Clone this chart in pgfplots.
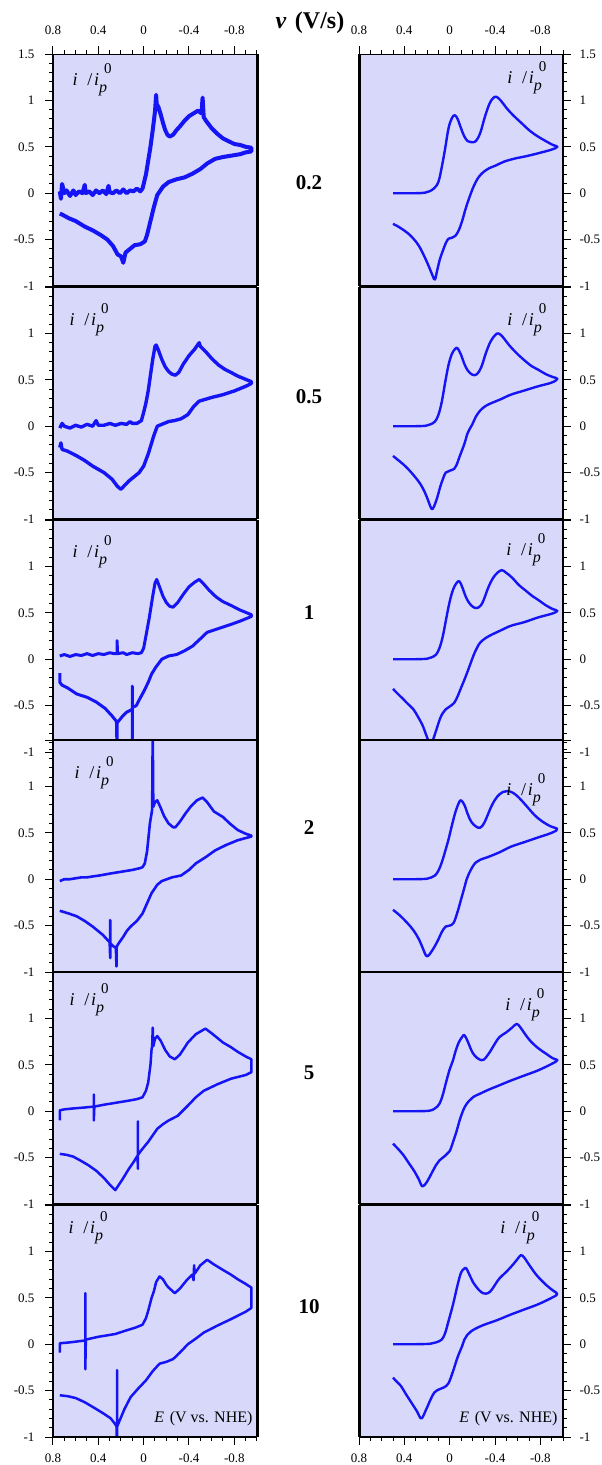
\documentclass[border=0pt]{standalone}
\usepackage{pgfplots}
\pgfplotsset{compat=1.18}
\usepackage{fontspec}
\setmainfont{Liberation Serif}
\definecolor{bgc}{RGB}{216,216,250}
\definecolor{cvb}{RGB}{20,20,245}
\newcommand{\ilab}{\fontsize{18}{18}\selectfont\textit{i}\hspace{0.55em}/\hspace{0.1em}\textit{i}\raisebox{-0.4em}{\fontsize{16}{16}\selectfont\textit{p}}\hspace{-3pt}\raisebox{0.62em}{\fontsize{15}{15}\selectfont 0}}
\newcommand{\elab}{\fontsize{16}{16}\selectfont\textit{E}\hspace{0.35em}(V vs. NHE)}
\pgfplotsset{
  cvbase/.style={scale only axis, width=204pt, height=232pt, x dir=reverse,
    xmin=-1, xmax=0.8, ymin=-1, ymax=1.5, anchor=north west,
    axis background/.style={fill=bgc}, clip mode=individual,
    tick align=outside, major tick length=8pt, minor tick length=4pt,
    every tick/.style={black, line width=1pt},
    axis line style={line width=1pt},
    ytick={-1,-0.5,0,0.5,1,1.5},
    minor ytick={-0.9,-0.8,-0.7,-0.6,-0.4,-0.3,-0.2,-0.1,0.1,0.2,0.3,0.4,0.6,0.7,0.8,0.9,1.1,1.2,1.3,1.4},
    yticklabels={-1,-0.5,0,0.5,1,{}},
    tick label style={font=\fontsize{13}{14}\selectfont},
  },
  L/.style={cvbase, at={(53pt,#1)}, ytick pos=left, yticklabel pos=left, yticklabel style={xshift=-7pt}},
  R/.style={cvbase, at={(359pt,#1)}, ytick pos=right, yticklabel pos=right, yticklabel style={xshift=5pt}},
  xt/.style={xtick={-0.8,-0.4,0,0.4,0.8}, xticklabels={-0.8,-0.4,0,0.4,0.8},
    minor xtick={-1,-0.9,-0.7,-0.6,-0.5,-0.3,-0.2,-0.1,0.1,0.2,0.3,0.5,0.6,0.7}},
  topx/.style={xt, xtick pos=right, xticklabel pos=right, xticklabel style={yshift=8pt}, yticklabels={-1,-0.5,0,0.5,1,1.5}},
  midx/.style={xtick=\empty},
  botx/.style={xt, xtick pos=left, xticklabel pos=left, xticklabel style={yshift=-5pt}},
  exp/.style={cvb, line width=2.6pt, line join=round},
  sim/.style={cvb, line width=2.4pt, smooth, tension=0.6, line join=round},
}
\newcommand{\frameL}[1]{\draw[line width=3pt] (#1.north east) -- (#1.south east);
  \draw[line width=2pt] (#1.north west) -- (#1.south west);}
\newcommand{\frameR}[1]{\draw[line width=3pt] (#1.north west) -- (#1.south west);
  \draw[line width=2.4pt] (#1.north east) -- (#1.south east);}
\newcommand{\hbot}[1]{\draw[line width=2pt] (#1.south west) -- (#1.south east);}
\newcommand{\htop}[1]{\draw[line width=2pt] (#1.north west) -- (#1.north east);}
\begin{document}
\begin{tikzpicture}
\useasboundingbox (0pt,0pt) rectangle (602pt,-1465pt);
\node[font=\fontsize{24}{26}\selectfont\bfseries] at (310pt,-23pt) {\textit{v}\hspace{0.35em}(V/s)};
% ---------------- Row 1 (0.2 V/s)
\begin{axis}[L=-54pt, topx, name=L1]
\addplot[exp, line width=4pt] coordinates {(0.74,0.02)(0.73,-0.06)(0.72,0.10)(0.70,0.0)(0.68,0.03)(0.65,-0.03)(0.62,0.03)(0.60,-0.02)(0.57,0.02)(0.54,0.0)(0.52,0.09)(0.51,0.0)(0.48,0.02)(0.45,-0.02)(0.42,0.03)(0.39,0.0)(0.36,0.03)(0.33,-0.01)(0.31,0.08)(0.30,0.01)(0.27,0.0)(0.24,0.03)(0.21,0.0)(0.18,0.04)(0.15,0.0)(0.12,0.03)(0.09,0.02)(0.06,0.05)(0.03,0.02)(0.01,0.05)(0.0,0.10)(-0.02,0.2)(-0.04,0.35)(-0.06,0.5)(-0.08,0.68)(-0.10,0.88)(-0.11,1.06)(-0.115,0.96)(-0.13,0.93)(-0.15,0.85)(-0.17,0.76)(-0.19,0.68)(-0.21,0.63)(-0.23,0.61)(-0.26,0.63)(-0.29,0.68)(-0.32,0.72)(-0.36,0.78)(-0.40,0.83)(-0.44,0.86)(-0.48,0.89)(-0.51,0.86)(-0.52,1.03)(-0.53,0.82)(-0.55,0.78)(-0.60,0.70)(-0.65,0.64)(-0.70,0.59)(-0.75,0.56)(-0.80,0.53)(-0.85,0.52)(-0.90,0.50)(-0.95,0.49)(-0.95,0.45)(-0.90,0.44)(-0.85,0.42)(-0.80,0.41)(-0.75,0.40)(-0.70,0.39)(-0.63,0.37)(-0.56,0.32)(-0.50,0.26)(-0.43,0.21)(-0.36,0.17)(-0.29,0.15)(-0.22,0.12)(-0.17,0.07)(-0.12,-0.02)(-0.09,-0.15)(-0.06,-0.30)(-0.03,-0.45)(-0.01,-0.52)(0.03,-0.55)(0.08,-0.56)(0.12,-0.60)(0.16,-0.64)(0.18,-0.75)(0.20,-0.68)(0.23,-0.66)(0.27,-0.57)(0.32,-0.50)(0.38,-0.45)(0.45,-0.40)(0.52,-0.36)(0.60,-0.30)(0.66,-0.27)(0.72,-0.23)(0.74,-0.22)};
\node[anchor=base west, xshift=16pt, yshift=-31pt] at (axis description cs:0,1) {\ilab};
\end{axis}
\frameL{L1}\hbot{L1}
\begin{axis}[R=-54pt, topx, name=R1]
\addplot[sim] coordinates {(0.50,0)(0.40,0)(0.30,0)(0.22,0.005)(0.18,0.02)(0.14,0.05)(0.10,0.12)(0.07,0.28)(0.04,0.48)(0.01,0.70)(-0.02,0.81)(-0.045,0.84)(-0.07,0.80)(-0.10,0.70)(-0.13,0.61)(-0.16,0.56)(-0.19,0.55)(-0.23,0.56)(-0.27,0.65)(-0.31,0.82)(-0.35,0.96)(-0.38,1.02)(-0.41,1.04)(-0.45,1.0)(-0.50,0.92)(-0.56,0.84)(-0.63,0.76)(-0.71,0.67)(-0.78,0.61)(-0.85,0.56)(-0.91,0.52)(-0.95,0.50)(-0.90,0.47)(-0.78,0.43)(-0.68,0.40)(-0.58,0.375)(-0.48,0.34)(-0.41,0.30)(-0.35,0.27)(-0.30,0.23)(-0.26,0.18)(-0.23,0.12)(-0.20,0.04)(-0.17,-0.06)(-0.14,-0.17)(-0.11,-0.30)(-0.08,-0.40)(-0.05,-0.46)(-0.02,-0.48)(0.01,-0.49)(0.035,-0.54)(0.06,-0.62)(0.086,-0.71)(0.11,-0.83)(0.13,-0.93)(0.15,-0.89)(0.18,-0.80)(0.22,-0.69)(0.27,-0.57)(0.32,-0.49)(0.37,-0.43)(0.44,-0.37)(0.50,-0.33)};
\node[anchor=base east, xshift=-13pt, yshift=-29pt] at (axis description cs:1,1) {\ilab};
\end{axis}
\frameR{R1}\hbot{R1}
% ---------------- Row 2 (0.5 V/s)
\begin{axis}[L=-287pt, midx, name=L2]
\addplot[exp, line width=3.4pt] coordinates {(0.74,-0.02)(0.72,0.03)(0.70,0.0)(0.65,-0.02)(0.60,0.01)(0.55,-0.01)(0.50,0.02)(0.45,0.0)(0.42,0.06)(0.40,0.01)(0.35,0.01)(0.30,0.03)(0.25,0.01)(0.20,0.03)(0.15,0.02)(0.12,0.05)(0.10,0.03)(0.06,0.03)(0.02,0.06)(0.0,0.15)(-0.02,0.25)(-0.04,0.38)(-0.06,0.55)(-0.08,0.72)(-0.10,0.86)(-0.11,0.875)(-0.13,0.82)(-0.16,0.72)(-0.19,0.64)(-0.22,0.59)(-0.25,0.56)(-0.28,0.55)(-0.31,0.58)(-0.35,0.67)(-0.40,0.76)(-0.45,0.83)(-0.49,0.90)(-0.50,0.86)(-0.55,0.80)(-0.60,0.73)(-0.66,0.66)(-0.72,0.61)(-0.77,0.58)(-0.83,0.54)(-0.89,0.51)(-0.95,0.48)(-0.95,0.46)(-0.90,0.43)(-0.80,0.38)(-0.70,0.34)(-0.60,0.31)(-0.49,0.27)(-0.44,0.21)(-0.39,0.125)(-0.33,0.08)(-0.27,0.06)(-0.22,0.05)(-0.16,0.02)(-0.12,0.0)(-0.09,-0.10)(-0.07,-0.18)(-0.04,-0.30)(0.0,-0.43)(0.04,-0.50)(0.08,-0.54)(0.13,-0.59)(0.17,-0.64)(0.20,-0.68)(0.23,-0.65)(0.28,-0.57)(0.35,-0.50)(0.45,-0.43)(0.52,-0.37)(0.59,-0.32)(0.67,-0.27)(0.72,-0.25)(0.73,-0.18)(0.74,-0.23)};
\node[anchor=base west, xshift=13pt, yshift=-38pt] at (axis description cs:0,1) {\ilab};
\end{axis}
\frameL{L2}\hbot{L2}\htop{L2}
\begin{axis}[R=-287pt, midx, name=R2]
\addplot[sim] coordinates {(0.50,0)(0.40,0)(0.30,0)(0.21,0.005)(0.17,0.02)(0.13,0.05)(0.10,0.12)(0.07,0.26)(0.04,0.47)(0.01,0.66)(-0.02,0.78)(-0.05,0.835)(-0.07,0.84)(-0.10,0.77)(-0.13,0.67)(-0.16,0.60)(-0.20,0.555)(-0.24,0.56)(-0.28,0.64)(-0.32,0.79)(-0.36,0.91)(-0.40,0.98)(-0.43,1.0)(-0.47,0.96)(-0.52,0.88)(-0.58,0.80)(-0.65,0.72)(-0.72,0.65)(-0.78,0.61)(-0.85,0.56)(-0.91,0.53)(-0.95,0.51)(-0.90,0.47)(-0.78,0.43)(-0.66,0.385)(-0.54,0.34)(-0.45,0.29)(-0.38,0.255)(-0.32,0.22)(-0.27,0.17)(-0.23,0.10)(-0.20,0.02)(-0.16,-0.07)(-0.13,-0.19)(-0.09,-0.32)(-0.06,-0.42)(-0.04,-0.46)(0.0,-0.48)(0.035,-0.50)(0.06,-0.57)(0.085,-0.66)(0.11,-0.77)(0.14,-0.87)(0.16,-0.89)(0.19,-0.80)(0.22,-0.71)(0.26,-0.62)(0.31,-0.54)(0.36,-0.47)(0.41,-0.41)(0.46,-0.36)(0.50,-0.32)};
\node[anchor=base east, xshift=-13pt, yshift=-38pt] at (axis description cs:1,1) {\ilab};
\end{axis}
\frameR{R2}\hbot{R2}\htop{R2}
% ---------------- Row 3 (1 V/s)
\begin{axis}[L=-520pt, midx, name=L3]
\addplot[exp, line width=3pt] coordinates {(0.74,0.035)(0.70,0.05)(0.65,0.03)(0.60,0.05)(0.55,0.04)(0.50,0.06)(0.45,0.04)(0.40,0.06)(0.35,0.05)(0.30,0.07)(0.26,0.06)(0.235,0.06)(0.235,0.2)(0.23,0.06)(0.18,0.07)(0.15,0.05)(0.10,0.07)(0.05,0.06)(0.02,0.07)(0.0,0.12)(-0.02,0.25)(-0.05,0.45)(-0.08,0.68)(-0.10,0.82)(-0.115,0.86)(-0.14,0.78)(-0.17,0.68)(-0.20,0.61)(-0.23,0.57)(-0.26,0.56)(-0.30,0.61)(-0.35,0.70)(-0.40,0.78)(-0.45,0.83)(-0.49,0.86)(-0.53,0.81)(-0.58,0.74)(-0.64,0.67)(-0.70,0.62)(-0.77,0.58)(-0.85,0.53)(-0.95,0.48)(-0.95,0.46)(-0.85,0.41)(-0.77,0.375)(-0.66,0.33)(-0.56,0.29)(-0.50,0.22)(-0.43,0.14)(-0.36,0.09)(-0.29,0.05)(-0.22,0.035)(-0.16,0.0)(-0.105,-0.09)(-0.07,-0.16)(-0.04,-0.25)(0.0,-0.35)(0.04,-0.44)(0.065,-0.50)(0.10,-0.52)(0.10,-0.29)(0.10,-1.0)(0.10,-0.54)(0.15,-0.57)(0.19,-0.62)(0.23,-0.68)(0.235,-0.69)(0.235,-1.0)(0.24,-0.67)(0.28,-0.61)(0.34,-0.53)(0.42,-0.46)(0.50,-0.41)(0.59,-0.375)(0.67,-0.31)(0.72,-0.28)(0.74,-0.25)(0.74,-0.15)};
\node[anchor=base west, xshift=16pt, yshift=-37pt] at (axis description cs:0,1) {\ilab};
\end{axis}
\frameL{L3}\htop{L3}
\begin{axis}[R=-520pt, midx, name=R3]
\addplot[sim] coordinates {(0.50,0)(0.40,0)(0.30,0)(0.20,0.005)(0.16,0.02)(0.12,0.05)(0.09,0.12)(0.06,0.25)(0.03,0.44)(0.0,0.62)(-0.03,0.75)(-0.06,0.82)(-0.085,0.84)(-0.11,0.78)(-0.14,0.68)(-0.17,0.61)(-0.21,0.56)(-0.25,0.555)(-0.29,0.61)(-0.34,0.77)(-0.38,0.87)(-0.42,0.93)(-0.46,0.96)(-0.50,0.93)(-0.55,0.88)(-0.61,0.80)(-0.67,0.74)(-0.73,0.68)(-0.78,0.64)(-0.85,0.58)(-0.91,0.54)(-0.95,0.52)(-0.90,0.49)(-0.78,0.45)(-0.66,0.40)(-0.54,0.36)(-0.45,0.31)(-0.38,0.27)(-0.32,0.23)(-0.27,0.18)(-0.24,0.12)(-0.21,0.04)(-0.18,-0.06)(-0.14,-0.19)(-0.10,-0.31)(-0.07,-0.40)(-0.04,-0.47)(0.0,-0.51)(0.035,-0.54)(0.06,-0.58)(0.085,-0.64)(0.12,-0.77)(0.15,-0.88)(0.17,-0.93)(0.20,-0.84)(0.24,-0.71)(0.28,-0.62)(0.32,-0.54)(0.37,-0.48)(0.41,-0.43)(0.46,-0.37)(0.50,-0.32)};
\node[anchor=base east, xshift=-14pt, yshift=-35pt] at (axis description cs:1,1) {\ilab};
\end{axis}
\frameR{R3}\htop{R3}
% ---------------- Row 4 (2 V/s)
\begin{axis}[L=-740pt, midx, name=L4]
\addplot[exp] coordinates {(0.74,-0.02)(0.70,0.0)(0.65,0.0)(0.60,0.01)(0.55,0.02)(0.50,0.02)(0.45,0.03)(0.39,0.04)(0.30,0.06)(0.20,0.08)(0.10,0.10)(0.03,0.12)(0.01,0.13)(-0.01,0.17)(-0.03,0.3)(-0.055,0.6)(-0.075,0.75)(-0.08,1.6)(-0.085,0.78)(-0.10,0.83)(-0.12,0.85)(-0.15,0.77)(-0.18,0.68)(-0.22,0.60)(-0.26,0.56)(-0.28,0.56)(-0.32,0.62)(-0.37,0.71)(-0.42,0.79)(-0.47,0.85)(-0.52,0.88)(-0.56,0.83)(-0.62,0.73)(-0.70,0.67)(-0.76,0.60)(-0.83,0.53)(-0.90,0.49)(-0.95,0.47)(-0.95,0.46)(-0.83,0.42)(-0.73,0.37)(-0.63,0.31)(-0.55,0.24)(-0.46,0.17)(-0.40,0.10)(-0.33,0.04)(-0.25,0.02)(-0.16,-0.02)(-0.12,-0.06)(-0.07,-0.15)(-0.03,-0.26)(0.01,-0.37)(0.06,-0.45)(0.115,-0.51)(0.15,-0.56)(0.18,-0.62)(0.22,-0.69)(0.24,-0.73)(0.24,-0.94)(0.245,-0.74)(0.27,-0.72)(0.295,-0.69)(0.295,-0.44)(0.295,-0.85)(0.30,-0.68)(0.36,-0.60)(0.45,-0.51)(0.52,-0.45)(0.59,-0.40)(0.66,-0.37)(0.74,-0.34)};
\node[anchor=base west, xshift=18pt, yshift=-38pt] at (axis description cs:0,1) {\ilab};
\end{axis}
\frameL{L4}\hbot{L4}\htop{L4}
\begin{axis}[R=-740pt, midx, name=R4]
\addplot[sim] coordinates {(0.50,0)(0.40,0)(0.30,0)(0.20,0.005)(0.16,0.02)(0.13,0.04)(0.10,0.09)(0.07,0.18)(0.04,0.30)(0.01,0.43)(-0.02,0.58)(-0.05,0.72)(-0.08,0.82)(-0.10,0.85)(-0.13,0.80)(-0.16,0.70)(-0.19,0.62)(-0.23,0.57)(-0.27,0.555)(-0.31,0.62)(-0.37,0.79)(-0.42,0.89)(-0.47,0.94)(-0.51,0.95)(-0.56,0.93)(-0.61,0.88)(-0.67,0.80)(-0.75,0.69)(-0.82,0.62)(-0.89,0.57)(-0.95,0.54)(-0.90,0.50)(-0.78,0.45)(-0.66,0.40)(-0.54,0.35)(-0.44,0.29)(-0.34,0.24)(-0.27,0.21)(-0.23,0.18)(-0.20,0.13)(-0.17,0.06)(-0.15,0.0)(-0.13,-0.09)(-0.10,-0.22)(-0.07,-0.35)(-0.035,-0.47)(0.0,-0.50)(0.035,-0.51)(0.07,-0.57)(0.10,-0.65)(0.15,-0.76)(0.20,-0.83)(0.235,-0.75)(0.27,-0.65)(0.32,-0.55)(0.375,-0.47)(0.44,-0.39)(0.50,-0.33)};
\node[anchor=base east, xshift=-14pt, yshift=-55pt] at (axis description cs:1,1) {\ilab};
\end{axis}
\frameR{R4}\hbot{R4}\htop{R4}
% ---------------- Row 5 (5 V/s)
\begin{axis}[L=-972pt, midx, name=L5]
\addplot[exp, line width=2.5pt] coordinates {(0.74,-0.10)(0.74,0.01)(0.70,0.02)(0.62,0.03)(0.52,0.04)(0.44,0.05)(0.44,0.18)(0.44,-0.10)(0.435,0.05)(0.35,0.07)(0.25,0.09)(0.15,0.11)(0.06,0.13)(0.01,0.15)(-0.02,0.22)(-0.04,0.31)(-0.06,0.50)(-0.07,0.67)(-0.075,0.70)(-0.08,0.9)(-0.085,0.70)(-0.10,0.78)(-0.12,0.81)(-0.15,0.76)(-0.19,0.66)(-0.23,0.59)(-0.275,0.56)(-0.32,0.61)(-0.39,0.74)(-0.46,0.83)(-0.545,0.89)(-0.60,0.84)(-0.70,0.74)(-0.77,0.69)(-0.83,0.64)(-0.90,0.59)(-0.95,0.56)(-0.95,0.42)(-0.90,0.39)(-0.77,0.35)(-0.65,0.29)(-0.53,0.22)(-0.46,0.15)(-0.39,0.06)(-0.30,-0.05)(-0.22,-0.10)(-0.17,-0.14)(-0.12,-0.19)(-0.04,-0.33)(0.02,-0.42)(0.05,-0.47)(0.05,-0.11)(0.05,-0.62)(0.055,-0.48)(0.09,-0.55)(0.13,-0.62)(0.19,-0.74)(0.25,-0.85)(0.30,-0.79)(0.35,-0.72)(0.42,-0.64)(0.49,-0.58)(0.56,-0.53)(0.62,-0.49)(0.68,-0.47)(0.74,-0.46)};
\node[anchor=base west, xshift=13pt, yshift=-33pt] at (axis description cs:0,1) {\ilab};
\end{axis}
\frameL{L5}\hbot{L5}\htop{L5}
\begin{axis}[R=-972pt, midx, name=R5]
\addplot[sim] coordinates {(0.50,0)(0.40,0)(0.30,0)(0.18,0.005)(0.13,0.03)(0.09,0.08)(0.06,0.18)(0.03,0.32)(0.0,0.45)(-0.03,0.55)(-0.05,0.64)(-0.08,0.74)(-0.11,0.80)(-0.13,0.82)(-0.16,0.75)(-0.19,0.66)(-0.22,0.60)(-0.26,0.56)(-0.30,0.555)(-0.35,0.63)(-0.40,0.73)(-0.44,0.80)(-0.50,0.85)(-0.55,0.90)(-0.59,0.94)(-0.62,0.91)(-0.66,0.84)(-0.71,0.76)(-0.78,0.68)(-0.85,0.62)(-0.91,0.57)(-0.95,0.55)(-0.90,0.51)(-0.78,0.44)(-0.66,0.385)(-0.54,0.33)(-0.44,0.28)(-0.34,0.23)(-0.27,0.19)(-0.21,0.155)(-0.17,0.11)(-0.135,0.05)(-0.11,-0.02)(-0.085,-0.11)(-0.06,-0.22)(-0.03,-0.33)(0.0,-0.43)(0.04,-0.48)(0.09,-0.53)(0.12,-0.58)(0.16,-0.67)(0.20,-0.76)(0.24,-0.81)(0.27,-0.74)(0.31,-0.65)(0.36,-0.56)(0.41,-0.47)(0.46,-0.40)(0.50,-0.35)};
\node[anchor=base east, xshift=-15pt, yshift=-38pt] at (axis description cs:1,1) {\ilab};
\end{axis}
\frameR{R5}\hbot{R5}\htop{R5}
% ---------------- Row 6 (10 V/s)
\begin{axis}[L=-1205pt, botx, name=L6]
\addplot[exp, line width=2.5pt] coordinates {(0.74,-0.09)(0.74,0.01)(0.65,0.02)(0.52,0.04)(0.515,0.04)(0.515,0.55)(0.515,-0.27)(0.51,0.05)(0.40,0.08)(0.30,0.10)(0.25,0.11)(0.15,0.15)(0.07,0.18)(0.01,0.21)(-0.02,0.28)(-0.04,0.36)(-0.07,0.5)(-0.09,0.57)(-0.11,0.67)(-0.14,0.73)(-0.17,0.70)(-0.20,0.64)(-0.22,0.61)(-0.275,0.55)(-0.32,0.60)(-0.38,0.69)(-0.43,0.75)(-0.44,0.69)(-0.445,0.85)(-0.45,0.76)(-0.50,0.85)(-0.56,0.91)(-0.62,0.86)(-0.70,0.80)(-0.77,0.75)(-0.83,0.70)(-0.90,0.65)(-0.95,0.61)(-0.95,0.39)(-0.90,0.35)(-0.77,0.27)(-0.65,0.20)(-0.53,0.125)(-0.46,0.06)(-0.39,0.0)(-0.32,-0.09)(-0.26,-0.16)(-0.20,-0.19)(-0.14,-0.21)(-0.08,-0.29)(-0.02,-0.39)(0.05,-0.48)(0.115,-0.57)(0.17,-0.70)(0.235,-0.89)(0.235,-0.28)(0.235,-1.1)(0.24,-0.88)(0.29,-0.80)(0.35,-0.75)(0.43,-0.69)(0.52,-0.625)(0.60,-0.58)(0.67,-0.56)(0.74,-0.55)};
\node[anchor=base west, xshift=12pt, yshift=-28pt] at (axis description cs:0,1) {\ilab};
\node[anchor=base east, xshift=-1pt, yshift=15pt] at (axis description cs:1,0) {\elab};
\end{axis}
\frameL{L6}\hbot{L6}\htop{L6}
\begin{axis}[R=-1205pt, botx, name=R6]
\addplot[sim] coordinates {(0.50,0)(0.40,0)(0.30,0)(0.17,0.005)(0.12,0.02)(0.07,0.05)(0.04,0.12)(0.01,0.25)(-0.03,0.43)(-0.07,0.64)(-0.10,0.77)(-0.125,0.81)(-0.145,0.82)(-0.17,0.76)(-0.21,0.66)(-0.24,0.61)(-0.28,0.56)(-0.32,0.545)(-0.36,0.57)(-0.40,0.64)(-0.44,0.71)(-0.50,0.78)(-0.56,0.86)(-0.60,0.92)(-0.63,0.96)(-0.66,0.93)(-0.71,0.84)(-0.77,0.74)(-0.85,0.64)(-0.91,0.58)(-0.95,0.54)(-0.90,0.50)(-0.78,0.43)(-0.66,0.375)(-0.54,0.32)(-0.42,0.26)(-0.305,0.21)(-0.24,0.175)(-0.19,0.14)(-0.155,0.10)(-0.13,0.05)(-0.11,-0.02)(-0.07,-0.14)(-0.03,-0.29)(0.01,-0.42)(0.05,-0.465)(0.09,-0.485)(0.135,-0.52)(0.17,-0.60)(0.21,-0.71)(0.25,-0.80)(0.29,-0.72)(0.34,-0.625)(0.39,-0.53)(0.43,-0.45)(0.47,-0.40)(0.50,-0.36)};
\node[anchor=base east, xshift=-20pt, yshift=-28pt] at (axis description cs:1,1) {\ilab};
\node[anchor=base east, xshift=-2pt, yshift=15pt] at (axis description cs:1,0) {\elab};
\end{axis}
\frameR{R6}\hbot{R6}\htop{R6}
% ---------------- scan-rate labels
\begin{scope}[font=\fontsize{21}{23}\selectfont\bfseries]
\node at (309pt,-183pt) {0.2};
\node at (309pt,-397pt) {0.5};
\node at (309pt,-613pt) {1};
\node at (309pt,-828pt) {2};
\node at (309pt,-1073pt) {5};
\node at (309pt,-1307pt) {10};
\end{scope}
\end{tikzpicture}
\end{document}
